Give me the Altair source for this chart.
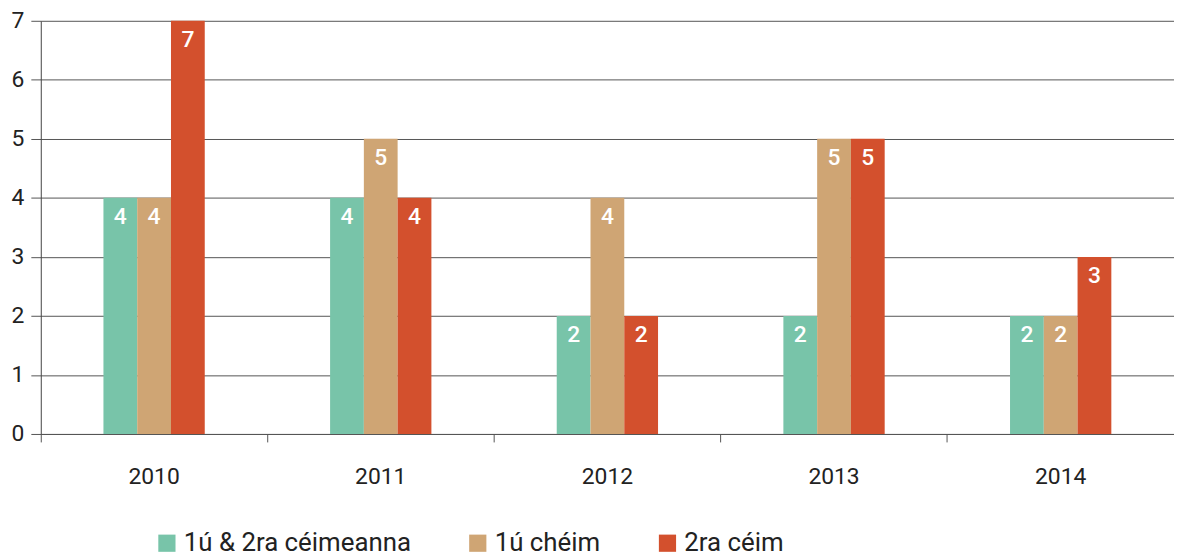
import altair as alt
import pandas as pd

years = ["2010", "2011", "2012", "2013", "2014"]
series = ["1ú & 2ra céimeanna", "1ú chéim", "2ra  céim"]
vals_both = [4, 4, 2, 2, 2]
vals_first = [4, 5, 4, 5, 2]
vals_second = [7, 4, 2, 5, 3]
colors = ["#78C4A9", "#CFA574", "#D3502D"]

rows = []
for i, y in enumerate(years):
    for s, v in zip(series, [vals_both[i], vals_first[i], vals_second[i]]):
        rows.append({"year": y, "series": s, "value": v})
df = pd.DataFrame(rows)

FONT = "Roboto"
W = 1141
STEP = W / 5
GROUP = 102

x = alt.X("year:N", title=None,
          scale=alt.Scale(paddingInner=0, paddingOuter=0),
          axis=alt.Axis(bandPosition=0, labelAngle=0, labelFontSize=23, labelFont=FONT,
                        labelColor="#222", labelPadding=24, tickSize=8, tickColor="#555",
                        domainColor="#555", grid=False))
xo_scale = alt.Scale(paddingInner=0, paddingOuter=0,
                     range=[(STEP - GROUP) / 2, (STEP + GROUP) / 2])
xo = alt.XOffset("series:N", sort=series, scale=xo_scale)
y = alt.Y("value:Q", title=None,
          scale=alt.Scale(domain=[0, 7], nice=False),
          axis=alt.Axis(values=list(range(8)), format="d", labelFontSize=23, labelFont=FONT,
                        labelColor="#222", tickSize=10, tickColor="#555",
                        domainColor="#444", gridColor="#555", gridWidth=1,
                        labelPadding=7))

bars = alt.Chart(df).mark_bar().encode(
    x=x, xOffset=xo, y=y,
    color=alt.Color("series:N", sort=series,
                    scale=alt.Scale(domain=series, range=colors),
                    legend=alt.Legend(title=None, orient="none", direction="horizontal",
                                      legendX=114, legendY=513, symbolType="square",
                                      symbolSize=300, symbolStrokeWidth=0,
                                      labelFontSize=26, labelFont=FONT, labelColor="#222",
                                      labelLimit=400, columnPadding=54, symbolOpacity=1)),
)

labels = alt.Chart(df).mark_text(baseline="top", dy=8, color="white",
                                 fontSize=23, font=FONT, fontWeight=500).encode(
    x="year:N", xOffset=alt.XOffset("series:N", sort=series), y="value:Q",
    text="value:Q",
)

chart = (bars + labels).properties(
    width=W, height=416,
    padding={"left": 3, "top": 0, "right": 0, "bottom": 0},
).configure_view(stroke=None)

chart.save("out.html", embed_options={"renderer": "svg", "actions": False})
